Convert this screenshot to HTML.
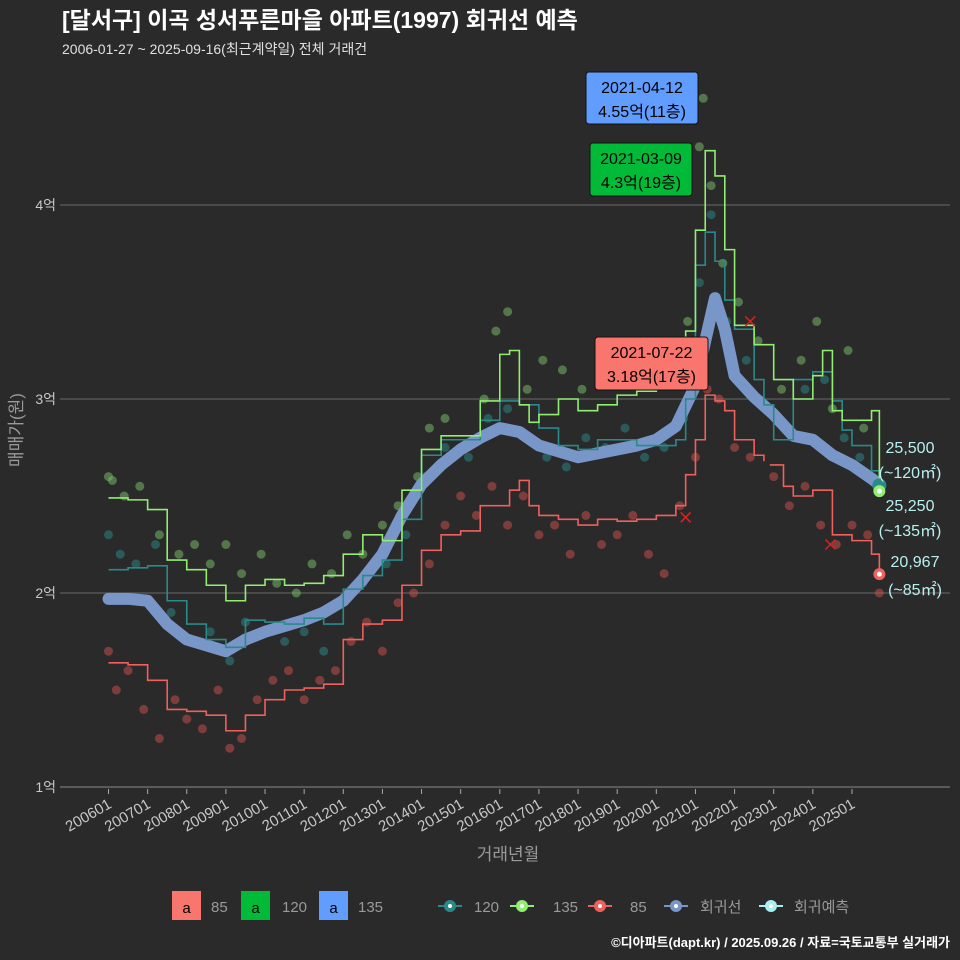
<!DOCTYPE html>
<html><head><meta charset="utf-8">
<style>
html,body{margin:0;padding:0;background:#2a2a2a;}
#wrap{position:relative;width:960px;height:960px;background:#2a2a2a;overflow:hidden;font-family:"Liberation Sans","Noto Sans CJK KR",sans-serif;}
svg text{font-family:"Liberation Sans","Noto Sans CJK KR",sans-serif;}
</style></head>
<body>
<div id="wrap">
<svg id="chart" width="960" height="960" viewBox="0 0 960 960">
  <text x="62" y="28" font-size="23" font-weight="bold" fill="#ffffff">[달서구] 이곡 성서푸른마을 아파트(1997) 회귀선 예측</text>
  <text x="62" y="54" font-size="14" fill="#e0e0e0">2006-01-27 ~ 2025-09-16(최근계약일) 전체 거래건</text>
  <g id="grid"></g>
  <g id="yaxis"></g>
  <g id="xaxis"></g>
  <g id="points"></g>
  <g id="lines"></g>
  <g id="marks"></g>
  <text x="508" y="860" font-size="17" fill="#9a9a9a" text-anchor="middle">거래년월</text>
  <text x="22" y="430" font-size="17" fill="#9a9a9a" text-anchor="middle" transform="rotate(-90 22 430)">매매가(원)</text>
  <g>
    <g><rect x="172" y="891" width="29" height="29" fill="#f8766d"/><text x="186.5" y="913" font-size="15" text-anchor="middle" fill="#000">a</text><text x="211" y="912" font-size="15" fill="#9a9a9a">85</text></g>
    <g><rect x="241" y="891" width="29" height="29" fill="#00ba38"/><text x="255.5" y="913" font-size="15" text-anchor="middle" fill="#000">a</text><text x="282" y="912" font-size="15" fill="#9a9a9a">120</text></g>
    <g><rect x="319" y="891" width="29" height="29" fill="#619cff"/><text x="333.5" y="913" font-size="15" text-anchor="middle" fill="#000">a</text><text x="358" y="912" font-size="15" fill="#9a9a9a">135</text></g>
    <g><line x1="438" y1="906" x2="462" y2="906" stroke="#2a8a8a" stroke-width="2"/><circle cx="450" cy="906" r="6" fill="#2a8a8a"/><circle cx="450" cy="906" r="2" fill="#fff"/><text x="474" y="912" font-size="15" fill="#9a9a9a">120</text></g>
    <g><line x1="510" y1="906" x2="534" y2="906" stroke="#90ee70" stroke-width="2"/><circle cx="522" cy="906" r="6" fill="#90ee70"/><circle cx="522" cy="906" r="2" fill="#fff"/><text x="553" y="912" font-size="15" fill="#9a9a9a">135</text></g>
    <g><line x1="588" y1="906" x2="612" y2="906" stroke="#f0605c" stroke-width="2"/><circle cx="600" cy="906" r="6" fill="#f0605c"/><circle cx="600" cy="906" r="2" fill="#fff"/><text x="630" y="912" font-size="15" fill="#9a9a9a">85</text></g>
    <g><line x1="664" y1="906" x2="688" y2="906" stroke="#7896c8" stroke-width="2"/><circle cx="676" cy="906" r="6" fill="#7896c8"/><circle cx="676" cy="906" r="2" fill="#fff"/><text x="700" y="912" font-size="15" fill="#9a9a9a">회귀선</text></g>
    <g><line x1="759" y1="906" x2="783" y2="906" stroke="#a8f0ee" stroke-width="2"/><circle cx="771" cy="906" r="6" fill="#a8f0ee"/><circle cx="771" cy="906" r="2" fill="#fff"/><text x="794" y="912" font-size="15" fill="#9a9a9a">회귀예측</text></g>
  </g>
  <text x="950" y="947" font-size="13" font-weight="bold" fill="#ffffff" text-anchor="end">©디아파트(dapt.kr) / 2025.09.26 / 자료=국토교통부 실거래가</text>
</svg>
</div>
<script>
const yTicks=[1,2,3,4];
const yTickLabels=["1억","2억","3억","4억"];
const xTickYears=[2006,2007,2008,2009,2010,2011,2012,2013,2014,2015,2016,2017,2018,2019,2020,2021,2022,2023,2024,2025];
const xTickLabels=["200601","200701","200801","200901","201001","201101","201201","201301","201401","201501","201601","201701","201801","201901","202001","202101","202201","202301","202401","202501"];

const regDates=[2006.0,2006.5,2007.0,2007.5,2008.0,2008.5,2009.0,2009.5,2010.0,2010.5,2011.0,2011.5,2012.0,2012.5,2013.0,2013.5,2014.0,2014.5,2015.0,2015.5,2016.0,2016.5,2017.0,2017.5,2018.0,2018.5,2019.0,2019.5,2020.0,2020.5,2021.0,2021.25,2021.5,2021.75,2022.0,2022.5,2023.0,2023.5,2024.0,2024.5,2025.0,2025.5,2025.7];
const regValues=[1.97,1.97,1.96,1.84,1.76,1.73,1.70,1.76,1.80,1.83,1.86,1.90,1.96,2.07,2.20,2.40,2.56,2.66,2.74,2.80,2.85,2.83,2.76,2.73,2.70,2.72,2.74,2.76,2.79,2.86,3.07,3.30,3.52,3.36,3.12,3.01,2.92,2.81,2.79,2.71,2.66,2.59,2.56];

const s135Dates=[2006.0,2006.5,2007.0,2007.5,2008.0,2008.5,2009.0,2009.5,2010.0,2010.5,2011.0,2011.5,2012.0,2012.5,2013.0,2013.5,2014.0,2014.5,2015.0,2015.5,2016.0,2016.25,2016.5,2016.75,2017.0,2017.5,2018.0,2018.5,2019.0,2019.5,2020.0,2020.5,2020.75,2021.0,2021.25,2021.5,2021.75,2022.0,2022.5,2023.0,2023.5,2024.0,2024.25,2024.5,2024.75,2025.0,2025.5,2025.7];
const s135Values=[2.49,2.48,2.43,2.17,2.12,2.04,1.96,2.04,2.07,2.04,2.05,2.09,2.20,2.30,2.27,2.53,2.74,2.81,2.81,2.99,3.23,3.25,2.97,2.88,2.92,3.00,2.94,2.97,3.02,3.04,3.07,3.25,3.35,3.87,4.28,4.15,3.77,3.38,3.28,3.10,3.00,3.12,3.25,2.94,2.89,2.89,2.94,2.53];

const s120Dates=[2006.0,2006.5,2007.0,2007.5,2008.0,2008.5,2009.0,2009.5,2010.0,2010.5,2011.0,2011.5,2012.0,2012.5,2013.0,2013.5,2014.0,2014.5,2015.0,2015.5,2016.0,2016.5,2017.0,2017.5,2018.0,2018.5,2019.0,2019.5,2020.0,2020.5,2020.75,2021.0,2021.25,2021.5,2021.75,2022.0,2022.5,2022.75,2023.0,2023.25,2023.5,2024.0,2024.5,2024.75,2025.0,2025.5,2025.7];
const s120Values=[2.12,2.13,2.14,1.96,1.84,1.76,1.72,1.86,1.85,1.84,1.87,1.84,2.02,2.09,2.17,2.38,2.71,2.79,2.79,2.89,2.99,2.97,2.85,2.76,2.74,2.79,2.79,2.76,2.76,2.79,3.00,3.69,3.86,3.71,3.51,3.36,3.10,2.97,2.79,2.79,3.10,3.14,2.99,2.84,2.76,2.63,2.58];

const s85Dates=[2006.0,2006.5,2007.0,2007.5,2008.0,2008.5,2009.0,2009.5,2010.0,2010.5,2011.0,2011.5,2012.0,2012.5,2013.0,2013.5,2014.0,2014.5,2015.0,2015.5,2016.0,2016.25,2016.5,2016.75,2017.0,2017.5,2018.0,2018.5,2019.0,2019.5,2020.0,2020.5,2020.75,2021.0,2021.25,2021.5,2021.75,2022.0,2022.5,2022.75];
const s85Values=[1.64,1.63,1.55,1.40,1.39,1.37,1.29,1.37,1.45,1.50,1.51,1.53,1.76,1.84,1.86,2.04,2.22,2.30,2.32,2.45,2.45,2.53,2.58,2.45,2.40,2.38,2.35,2.38,2.37,2.38,2.40,2.45,2.61,2.79,3.02,2.99,2.94,2.79,2.71,2.68];
const s85bDates=[2022.9,2023.25,2023.5,2024.0,2024.5,2025.0,2025.5,2025.7];
const s85bValues=[2.66,2.55,2.50,2.53,2.30,2.27,2.20,2.09];

const p135Dates=[2006.0,2006.1,2006.4,2006.8,2007.3,2007.8,2008.2,2008.6,2009.0,2009.4,2009.9,2010.3,2010.8,2011.2,2011.7,2012.1,2012.5,2013.0,2013.4,2013.9,2014.2,2014.6,2015.1,2015.6,2015.9,2016.2,2016.7,2017.1,2017.6,2018.1,2018.6,2019.2,2019.7,2020.3,2020.8,2021.1,2021.2,2021.4,2021.7,2022.1,2022.6,2023.2,2023.7,2024.1,2024.5,2024.9,2025.3];
const p135Values=[2.60,2.58,2.50,2.55,2.30,2.20,2.25,2.15,2.25,2.10,2.20,2.05,2.00,2.15,2.10,2.30,2.20,2.35,2.45,2.60,2.85,2.90,2.75,3.00,3.35,3.45,3.05,3.20,3.15,3.05,3.10,3.20,3.30,3.10,3.40,4.30,4.55,4.10,3.70,3.50,3.30,3.05,3.20,3.40,2.95,3.25,2.85];
const p120Dates=[2006.0,2006.3,2006.7,2007.2,2007.6,2008.1,2008.6,2009.1,2009.5,2010.0,2010.5,2011.0,2011.5,2012.0,2012.5,2013.1,2013.6,2014.1,2014.6,2015.2,2015.7,2016.2,2016.7,2017.2,2017.7,2018.2,2018.7,2019.2,2019.7,2020.2,2020.7,2021.1,2021.4,2021.8,2022.3,2022.8,2023.3,2023.8,2024.3,2024.8,2025.2];
const p120Values=[2.30,2.20,2.15,2.25,1.90,1.75,1.80,1.65,1.85,1.80,1.75,1.80,1.70,1.95,2.05,2.15,2.30,2.60,2.75,2.70,2.90,2.95,2.80,2.70,2.65,2.80,2.75,2.85,2.70,2.75,2.90,3.60,3.95,3.40,3.20,2.95,2.85,3.05,3.10,2.80,2.70];
const p85Dates=[2006.0,2006.2,2006.5,2006.9,2007.3,2007.7,2008.0,2008.4,2008.8,2009.1,2009.4,2009.8,2010.2,2010.6,2011.0,2011.4,2011.8,2012.2,2012.6,2013.0,2013.4,2013.8,2014.2,2014.6,2015.0,2015.4,2015.8,2016.2,2016.6,2017.0,2017.4,2017.8,2018.2,2018.6,2019.0,2019.4,2019.8,2020.2,2020.6,2021.0,2021.3,2021.6,2022.0,2022.4,2023.0,2023.4,2023.8,2024.2,2024.6,2025.0,2025.4,2025.7];
const p85Values=[1.70,1.50,1.60,1.40,1.25,1.45,1.35,1.30,1.50,1.20,1.25,1.45,1.55,1.60,1.45,1.55,1.60,1.75,1.85,1.70,1.95,2.00,2.15,2.35,2.50,2.40,2.55,2.35,2.50,2.30,2.35,2.20,2.40,2.25,2.30,2.40,2.20,2.10,2.45,2.70,3.05,3.00,2.75,2.70,2.60,2.45,2.55,2.35,2.25,2.35,2.30,2.00];

const NS='http://www.w3.org/2000/svg';
function xs(t){return 108.5+(t-2006)*39.13;}
function ys(v){return 593-(v-2)*194;}
function mk(tag,attrs,parent){const e=document.createElementNS(NS,tag);for(const k in attrs)e.setAttribute(k,attrs[k]);parent.appendChild(e);return e;}

const grid=document.getElementById('grid'),yax=document.getElementById('yaxis'),xax=document.getElementById('xaxis');
const pts=document.getElementById('points'),lines=document.getElementById('lines'),marks=document.getElementById('marks');

yTicks.forEach((v,i)=>{
  const g=mk('line',{x1:60,x2:950,y1:ys(v),y2:ys(v),stroke:v===1?'#777':'#5e5e5e','stroke-width':1.2},grid);
  
  
  const t=mk('text',{x:56,y:ys(v)+5,'font-size':14,fill:'#c8c8c8','text-anchor':'end'},yax);
  t.textContent=yTickLabels[i];
  
  
});
xTickYears.forEach((yr,i)=>{
  const x=xs(yr);
  const tk=mk('line',{x1:x,x2:x,y1:789,y2:794,stroke:'#aaa','stroke-width':1},xax);
  
  
  const t=mk('text',{x:x+4,y:807,'font-size':15,fill:'#c8c8c8','text-anchor':'end',transform:`rotate(-30 ${x+4} 807)`},xax);
  t.textContent=xTickLabels[i];
  
  
});

function scatter(d,v,col,name){
  d.forEach((t,i)=>{
    const c=mk('circle',{cx:xs(t),cy:ys(v[i]),r:4.5,fill:col,'fill-opacity':0.5},pts);
    
    
  });
}
scatter(p120Dates,p120Values,'#2a8a8a','point-120');
scatter(p135Dates,p135Values,'#7cc46a','point-135');
scatter(p85Dates,p85Values,'#d0504c','point-85');

function stepPath(d,v){let s='';d.forEach((t,i)=>{const x=xs(t),y=ys(v[i]);if(i===0)s+=`M${x},${y}`;else s+=`H${x}V${y}`;});return s;}
function smoothPath(d,v){return d.map((t,i)=>(i?'L':'M')+xs(t)+','+ys(v[i])).join('');}

const reg=mk('path',{d:smoothPath(regDates,regValues),fill:'none',stroke:'#7896c8','stroke-width':12,'stroke-linejoin':'round','stroke-linecap':'round'},lines);


const l120=mk('path',{d:stepPath(s120Dates,s120Values),fill:'none',stroke:'#2a8a8a','stroke-width':1.6},lines);


const l135=mk('path',{d:stepPath(s135Dates,s135Values),fill:'none',stroke:'#90ee70','stroke-width':1.6},lines);


const l85=mk('path',{d:stepPath(s85Dates,s85Values),fill:'none',stroke:'#f0605c','stroke-width':1.6},lines);


const l85b=mk('path',{d:stepPath(s85bDates,s85bValues),fill:'none',stroke:'#f0605c','stroke-width':1.6},lines);



const endT=2025.7;
const e120=mk('circle',{cx:xs(endT),cy:ys(2.555),r:7,fill:'#2a8a8a'},marks);


const e135=mk('circle',{cx:xs(endT),cy:ys(2.525),r:6,fill:'#90ee70'},marks);


mk('circle',{cx:xs(endT),cy:ys(2.525),r:2.5,fill:'#fff'},marks);
const e85=mk('circle',{cx:xs(endT),cy:ys(2.097),r:6,fill:'#f0605c'},marks);


mk('circle',{cx:xs(endT),cy:ys(2.097),r:2.5,fill:'#fff'},marks);

function label(x,y,txt,name){const t=mk('text',{x:x,y:y,'font-size':16,fill:'#b8f0ee','text-anchor':'middle'},marks);t.textContent=txt;}
label(910,453,'25,500','end-label-120-value');label(910,478,'(~120㎡)','end-label-120-area');
label(910,511,'25,250','end-label-135-value');label(910,536,'(~135㎡)','end-label-135-area');
label(915,567,'20,967','end-label-85-value');label(915,595,'(~85㎡)','end-label-85-area');

function box(x,y,w,h,fill,l1,l2,name){
  const g=mk('g',{},marks);
  
  
  mk('rect',{x:x,y:y,width:w,height:h,rx:3,fill:fill,stroke:'#111','stroke-width':1},g);
  const a=mk('text',{x:x+w/2,y:y+21,'font-size':16,fill:'#000','text-anchor':'middle'},g);a.textContent=l1;
  const b=mk('text',{x:x+w/2,y:y+45,'font-size':16,fill:'#000','text-anchor':'middle'},g);b.textContent=l2;
}
box(586,72,112,52,'#619cff','2021-04-12','4.55억(11층)','max-label-135');
box(590,143,102,53,'#00ba38','2021-03-09','4.3억(19층)','max-label-120');
box(595,337,113,53,'#f8766d','2021-07-22','3.18억(17층)','max-label-85');

[[2020.75,2.39],[2022.4,3.40],[2024.45,2.25]].forEach(p=>{
  const x=xs(p[0]),y=ys(p[1]);
  const g=mk('g',{},marks);
  
  
  mk('line',{x1:x-5,y1:y-5,x2:x+5,y2:y+5,stroke:'#e02020','stroke-width':1.5},g);
  mk('line',{x1:x-5,y1:y+5,x2:x+5,y2:y-5,stroke:'#e02020','stroke-width':1.5},g);
});
</script>
</body></html>
